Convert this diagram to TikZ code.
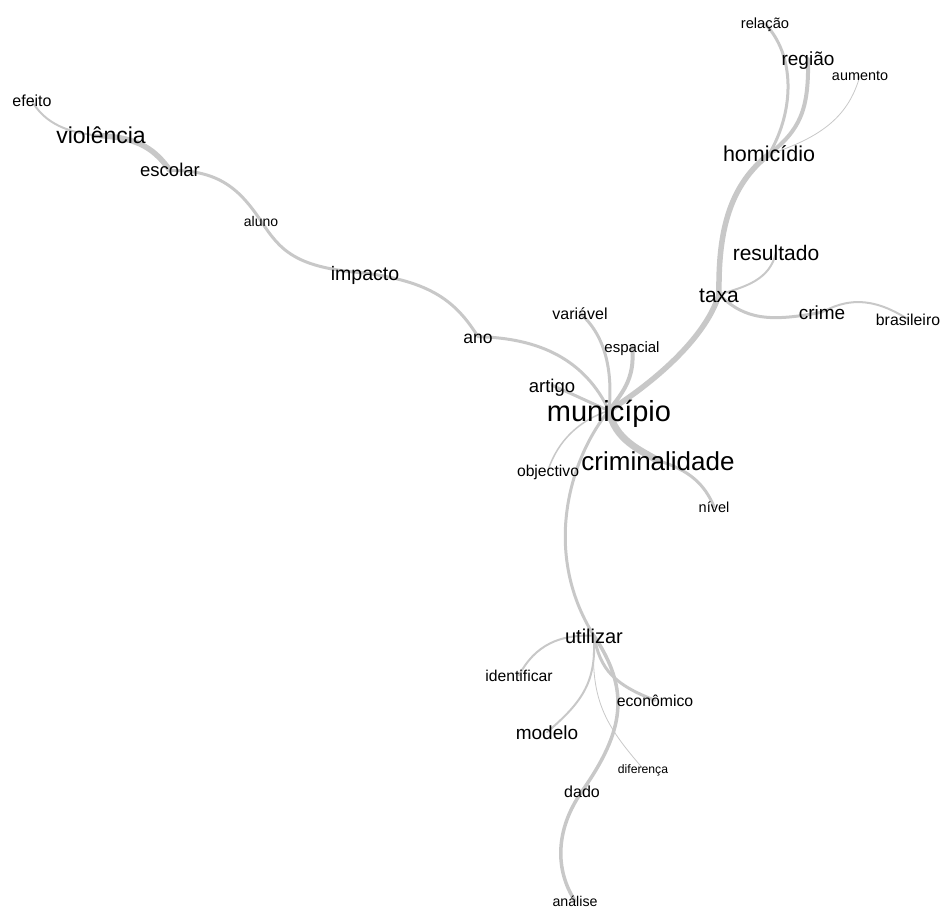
\documentclass[tikz,border=0pt]{standalone}
\usepackage{fontspec}
\setmainfont{Liberation Sans}
\usetikzlibrary{backgrounds}
\definecolor{edgegray}{RGB}{200,200,200}
\begin{document}
\begin{tikzpicture}[x=1pt,y=-1pt,
  w/.style={font=\fontsize{#1}{#1}\selectfont, text height=0.72*#1pt, text depth=0pt, inner sep=0pt, anchor=base, text=black},
  lnk/.style={draw=edgegray, line width=#1pt, line cap=round}]
\useasboundingbox (0,0) rectangle (941,909);
% nodes
\node[w=29]   (municipio)     at (609,421) {município};
\node[w=26]   (criminalidade) at (658,470) {criminalidade};
\node[w=21.5] (homicidio)     at (769,162) {homicídio};
\node[w=19]   (regiao)        at (808,66)  {região};
\node[w=14.7] (relacao)       at (765,29)  {relação};
\node[w=14.4] (aumento)       at (860,81)  {aumento};
\node[w=21]   (resultado)     at (776,260) {resultado};
\node[w=21]   (taxa)          at (719,302) {taxa};
\node[w=19]   (crime)         at (822,319) {crime};
\node[w=15.8] (brasileiro)    at (908,325) {brasileiro};
\node[w=16]   (variavel)      at (580,319) {variável};
\node[w=15]   (espacial)      at (632,352) {espacial};
\node[w=18.5] (artigo)        at (552,392) {artigo};
\node[w=15.7] (objectivo)     at (548,476) {objectivo};
\node[w=14.5] (nivel)         at (714,512) {nível};
\node[w=17.5] (ano)           at (478,343) {ano};
\node[w=19.5] (impacto)       at (365,280) {impacto};
\node[w=14]   (aluno)         at (261,226) {aluno};
\node[w=18.5] (escolar)       at (170,177) {escolar};
\node[w=23]   (violencia)     at (101,144) {violência};
\node[w=16]   (efeito)        at (32,107)  {efeito};
\node[w=20]   (utilizar)      at (594,643) {utilizar};
\node[w=15.7] (identificar)   at (519,681) {identificar};
\node[w=15.8] (economico)     at (655,706) {econômico};
\node[w=19]   (modelo)        at (547,739) {modelo};
\node[w=12.2] (diferenca)     at (643,773) {diferença};
\node[w=16]   (dado)          at (582,797) {dado};
\node[w=14.2] (analise)       at (575,906) {análise};
% edges
\begin{scope}[on background layer]
\draw[lnk=5.5] (municipio.center) .. controls (650,385) and (705,340) .. (taxa.center);
\draw[lnk=5.5] (taxa.center) .. controls (718,230) and (730,185) .. (homicidio.center);
\draw[lnk=4]   (homicidio.center) .. controls (800,130) and (809,110) .. (regiao.center);
\draw[lnk=3]   (homicidio.center) .. controls (795,110) and (795,55) .. (relacao.center);
\draw[lnk=0.8] (homicidio.center) .. controls (830,135) and (850,110) .. (aumento.center);
\draw[lnk=2]   (taxa.center) .. controls (745,287) and (770,280) .. (resultado.center);
\draw[lnk=3]   (taxa.center) .. controls (745,320) and (770,322) .. (crime.center);
\draw[lnk=2]   (crime.center) .. controls (845,300) and (870,295) .. (brasileiro.center);
\draw[lnk=4]   (espacial.center) .. controls (636,380) and (620,395) .. (municipio.center);
\draw[lnk=3]   (variavel.center) .. controls (605,335) and (613,370) .. (municipio.center);
\draw[lnk=3]   (ano.center) .. controls (540,338) and (585,360) .. (municipio.center);
\draw[lnk=3]   (impacto.center) .. controls (430,282) and (455,300) .. (ano.center);
\draw[lnk=3]   (aluno.center) .. controls (280,250) and (295,268) .. (impacto.center);
\draw[lnk=3]   (escolar.center) .. controls (220,170) and (240,190) .. (aluno.center);
\draw[lnk=5.5] (violencia.center) .. controls (140,138) and (155,150) .. (escolar.center);
\draw[lnk=2]   (efeito.center) .. controls (42,118) and (60,133) .. (violencia.center);
\draw[lnk=3]   (artigo.center) .. controls (575,395) and (595,405) .. (municipio.center);
\draw[lnk=7]   (municipio.center) .. controls (615,440) and (640,450) .. (criminalidade.center);
\draw[lnk=3]   (criminalidade.center) .. controls (690,470) and (705,485) .. (nivel.center);
\draw[lnk=1.5] (objectivo.center) .. controls (558,440) and (580,420) .. (municipio.center);
\draw[lnk=3]   (municipio.center) .. controls (572,455) and (540,550) .. (utilizar.center);
\draw[lnk=2]   (utilizar.center) .. controls (560,634) and (535,645) .. (identificar.center);
\draw[lnk=3]   (utilizar.center) .. controls (600,670) and (615,685) .. (economico.center);
\draw[lnk=2]   (utilizar.center) .. controls (596,680) and (585,700) .. (modelo.center);
\draw[lnk=0.8] (utilizar.center) .. controls (590,700) and (605,725) .. (diferenca.center);
\draw[lnk=3.5] (utilizar.center) .. controls (630,690) and (625,730) .. (dado.center);
\draw[lnk=3.5] (dado.center) .. controls (555,830) and (555,870) .. (analise.center);
\end{scope}
\end{tikzpicture}
\end{document}
